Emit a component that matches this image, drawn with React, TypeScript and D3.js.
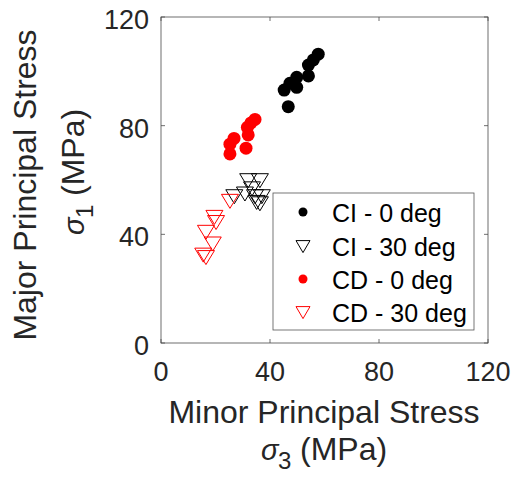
import * as React from 'react';
import * as d3 from 'd3';

// sigma3, sigma1 pairs (MPa)
const ciZeroS3 = [45.2, 46.7, 47.3, 49.8, 49.8, 54.1, 54.1, 55.9, 57.7];
const ciZeroS1 = [93.1, 87.0, 95.6, 97.8, 94.1, 98.3, 102.3, 104.2, 106.3];

const ciThirtyS3 = [32.0, 36.3, 26.9, 30.8, 33.4, 34.5, 37.0, 35.1, 36.3];
const ciThirtyS1 = [60.0, 60.0, 54.1, 55.1, 57.0, 54.1, 54.1, 52.0, 51.5];

const cdZeroS3 = [25.3, 25.3, 26.8, 31.2, 32.0, 31.7, 34.5, 33.0];
const cdZeroS1 = [69.6, 73.2, 75.3, 71.7, 76.6, 79.4, 82.3, 81.0];

const cdThirtyS3 = [25.3, 19.6, 20.2, 16.5, 19.0, 15.5, 16.5];
const cdThirtyS1 = [52.4, 46.5, 44.6, 41.0, 36.7, 32.6, 31.7];

const tickValues = [0, 40, 80, 120];
const legendLabels = ['CI - 0 deg', 'CI - 30 deg', 'CD - 0 deg', 'CD - 30 deg'];

const font = '"Liberation Sans", Arial, sans-serif';
const axisColor = '#262626';

function tri(cx: number, cy: number, w: number, h: number) {
    return 'M' + (cx - w) + ',' + (cy - h * 0.45) + 'L' + (cx + w) + ',' + (cy - h * 0.45) +
        'L' + cx + ',' + (cy + h * 0.55) + 'Z';
}

// "σ_n (MPa)" laid out piece by piece, centred on the origin of the given transform
function SigmaLabel(props: { sub: string; transform: string }) {
    return (
        <g transform={props.transform} fontFamily={font} fill={axisColor}>
            <text x={-63} y={0} fontSize={29} fontStyle="italic">σ</text>
            <text x={-46} y={9} fontSize={24}>{props.sub}</text>
            <text x={-24} y={0} fontSize={32}>(MPa)</text>
        </g>
    );
}

export default function App() {
    const width = 512;
    const height = 478;
    const left = 161, right = 488, top = 17, bottom = 343;

    const x = d3.scaleLinear().domain([0, 120]).range([left, right]);
    const y = d3.scaleLinear().domain([0, 120]).range([bottom, top]);

    const pts = (a: number[], b: number[]) => a.map((v, i) => [x(v), y(b[i])]);

    const legendY = [212, 246, 279, 312];
    const legendX = 303;

    return (
        <svg width={width} height={height} style={{ position: 'absolute', left: 0, top: 0 }}>
            <rect x={0} y={0} width={width} height={height} fill="#fff" />

            {/* data */}
            {pts(ciThirtyS3, ciThirtyS1).map((p, i) => (
                <path key={'ct' + i} d={tri(p[0], p[1], 8.5, 14)} fill="none" stroke="#000" strokeWidth={1} />
            ))}
            {pts(cdThirtyS3, cdThirtyS1).map((p, i) => (
                <path key={'dt' + i} d={tri(p[0], p[1], 8.5, 14)} fill="none" stroke="#ff0000" strokeWidth={1} />
            ))}
            {pts(ciZeroS3, ciZeroS1).map((p, i) => (
                <circle key={'cz' + i} cx={p[0]} cy={p[1]} r={6.5} fill="#000" />
            ))}
            {pts(cdZeroS3, cdZeroS1).map((p, i) => (
                <circle key={'dz' + i} cx={p[0]} cy={p[1]} r={6.5} fill="#ff0000" />
            ))}

            {/* box and ticks */}
            <rect x={left} y={top} width={right - left} height={bottom - top} fill="none" stroke="#4a4a4a" strokeWidth={0.8} />
            {tickValues.map(t => (
                <g key={'t' + t} stroke="#4a4a4a" strokeWidth={0.8}>
                    <line x1={x(t)} x2={x(t)} y1={bottom} y2={bottom - 4} />
                    <line x1={x(t)} x2={x(t)} y1={top} y2={top + 4} />
                    <line x1={left} x2={left + 4} y1={y(t)} y2={y(t)} />
                    <line x1={right} x2={right - 4} y1={y(t)} y2={y(t)} />
                </g>
            ))}
            <g fontFamily={font} fontSize={27} fill={axisColor}>
                {tickValues.map(t => (
                    <text key={'xl' + t} x={x(t)} y={381} textAnchor="middle">{t}</text>
                ))}
                {tickValues.map(t => (
                    <text key={'yl' + t} x={149} y={y(t) + 3} textAnchor="end" dominantBaseline="central">{t}</text>
                ))}
            </g>

            {/* axis labels */}
            <g fontFamily={font} fontSize={32} fill={axisColor}>
                <text x={324} y={423} textAnchor="middle">Minor Principal Stress</text>
                <text transform="translate(36,185) rotate(-90)" textAnchor="middle">Major Principal Stress</text>
            </g>
            <SigmaLabel sub="3" transform="translate(324,460)" />
            <SigmaLabel sub="1" transform="translate(84,172) rotate(-90)" />

            {/* legend */}
            <rect x={273} y={193} width={201} height={137} fill="#fff" stroke="#555" strokeWidth={0.8} />
            <circle cx={legendX} cy={legendY[0]} r={4.5} fill="#000" />
            <path d={tri(legendX, legendY[1], 7, 12)} fill="none" stroke="#000" strokeWidth={1} />
            <circle cx={legendX} cy={legendY[2]} r={4.5} fill="#ff0000" />
            <path d={tri(legendX, legendY[3], 7, 12)} fill="none" stroke="#ff0000" strokeWidth={1} />
            <g fontFamily={font} fontSize={25} fill="#000">
                {legendLabels.map((l, i) => (
                    <text key={l} x={332} y={legendY[i] + 9.5}>{l}</text>
                ))}
            </g>
        </svg>
    );
}
